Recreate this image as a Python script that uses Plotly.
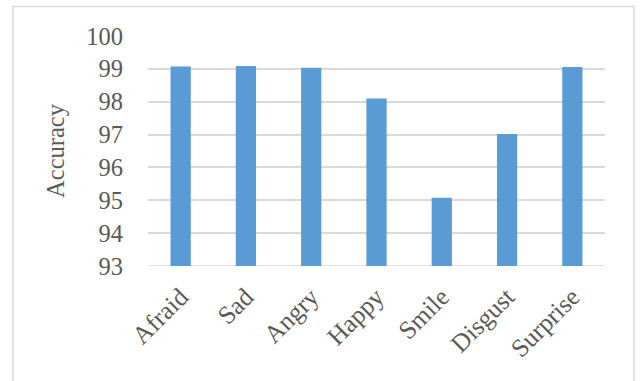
import plotly.graph_objects as go

categories = ["Afraid", "Sad", "Angry", "Happy", "Smile", "Disgust", "Surprise"]
accuracy = [99.07, 99.09, 99.03, 98.10, 95.08, 97.02, 99.06]

W, H = 641, 381
L, R, T, B = 148, 36, 36, 115
pw, ph = W - L - R, H - T - B

def px_x(x):
    return (x - L) / pw

def px_y(y):
    return (H - B - y) / ph

fig = go.Figure(go.Bar(x=categories, y=accuracy, marker_color="#5b9bd5",
                       marker_line_width=0))

font_family = "Liberation Serif, Times New Roman, serif"
fig.update_layout(
    width=W, height=H,
    margin=dict(l=L, r=R, t=T, b=B, pad=0),
    paper_bgcolor="white", plot_bgcolor="white",
    bargap=0.69,
    showlegend=False,
    font=dict(family=font_family, color="#595959", size=24),
    xaxis=dict(tickangle=-45, tickfont=dict(size=25.5), showgrid=False,
               showline=False, ticks="", ticklabelstandoff=10),
    yaxis=dict(range=[93, 100], dtick=1, showgrid=True, gridcolor="#d9d9d9",
               gridwidth=1.5, zeroline=False, showline=False, ticks="",
               tickfont=dict(size=24.5), ticklabelstandoff=24,
               title=dict(text="Accuracy", font=dict(size=24.5), standoff=14)),
    shapes=[dict(type="rect", xref="paper", yref="paper",
                 x0=px_x(13), x1=px_x(634), y0=px_y(395), y1=px_y(6.5),
                 line=dict(color="#d9d9d9", width=1.5), layer="below"),
            dict(type="line", xref="paper", yref="y", x0=0, x1=1, y0=93, y1=93,
                 line=dict(color="#d9d9d9", width=1.5), layer="below")],
)

fig.write_html("out.html")
